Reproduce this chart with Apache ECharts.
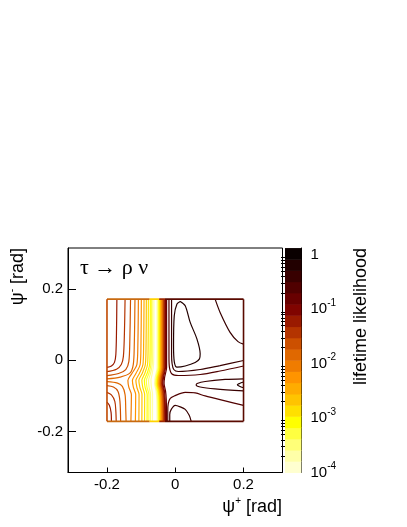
<!DOCTYPE html>
<html>
<head>
<meta charset="utf-8">
<script src="https://cdn.jsdelivr.net/npm/echarts@6/dist/echarts.min.js"></script>
<style>
html, body { margin: 0; padding: 0; background: #fff; }
#chart { width: 407px; height: 527px; }
</style>
</head>
<body>
<div id="chart"></div>
<script>
// axis ticks
var psiPlusTicks = [-0.2, 0, 0.2];
var psiMinusTicks = [-0.2, 0, 0.2];
var zDecades = [-4, -3, -2, -1, 0];          // log10 of 1e-4 .. 1
var zMinorMantissa = [2, 3, 4, 5, 6, 7, 8, 9];

// colour levels of the likelihood (20 contours, log spaced)
var levelEdges = [1e-4, 1.61e-4, 2.59e-4, 4.16e-4, 6.69e-4, 1.08e-3, 1.73e-3, 2.78e-3, 4.48e-3, 7.21e-3,
  1.16e-2, 1.86e-2, 3.0e-2, 4.82e-2, 7.76e-2, 0.125, 0.201, 0.323, 0.519, 0.835, 1.34];
var palette = ['#ffffd0', '#ffffa8', '#ffff78', '#ffff40', '#ffff00', '#ffe000', '#ffc400', '#ffac00', '#ff9400', '#f07c00',
  '#e06800', '#cc5000', '#b43400', '#9a1a00', '#800400', '#680000', '#500000', '#380000', '#220000', '#0a0000'];

// contour lines [psi+, psi-]
// left side: lines from the top edge bending to the left edge
var left13Up = [[-0.171, 0.171], [-0.172, 0.086], [-0.174, 0.016], [-0.178, -0.006], [-0.187, -0.016], [-0.2, -0.020]];
var left12Up = [[-0.147, 0.171], [-0.149, 0.072], [-0.152, 0.010], [-0.158, -0.012], [-0.172, -0.025], [-0.2, -0.032]];
var left11Up = [[-0.131, 0.171], [-0.133, 0.058], [-0.136, -0.004], [-0.145, -0.026], [-0.166, -0.037], [-0.2, -0.043]];
var left10Up = [[-0.118, 0.171], [-0.120, 0.044], [-0.123, -0.012], [-0.133, -0.036], [-0.161, -0.047], [-0.2, -0.052]];
// left side: lines from the left edge bending to the bottom edge
var left10Down = [[-0.2, -0.060], [-0.169, -0.064], [-0.155, -0.073], [-0.147, -0.096], [-0.145, -0.138], [-0.144, -0.171]];
var left11Down = [[-0.2, -0.071], [-0.181, -0.075], [-0.168, -0.087], [-0.162, -0.115], [-0.160, -0.171]];
var left12Down = [[-0.2, -0.090], [-0.187, -0.097], [-0.177, -0.115], [-0.174, -0.143], [-0.173, -0.171]];
var left13Down = [[-0.2, -0.117], [-0.193, -0.126], [-0.188, -0.146], [-0.187, -0.171]];
// left flank of the valley, top to bottom
var pass9 = [[-0.1080, 0.171], [-0.1095, 0.044], [-0.1124, -0.012], [-0.1270, -0.037], [-0.1387, -0.057], [-0.1358, -0.076], [-0.1285, -0.096], [-0.1299, -0.171]];
var pass8 = [[-0.0993, 0.171], [-0.1004, 0.044], [-0.1028, -0.012], [-0.1153, -0.037], [-0.1255, -0.057], [-0.1226, -0.076], [-0.1159, -0.096], [-0.1168, -0.171]];
var pass7 = [[-0.0914, 0.171], [-0.0926, 0.044], [-0.0946, -0.012], [-0.1051, -0.037], [-0.1153, -0.057], [-0.1124, -0.076], [-0.1060, -0.096], [-0.1066, -0.171]];
var pass6 = [[-0.0847, 0.171], [-0.0855, 0.044], [-0.0876, -0.012], [-0.0969, -0.037], [-0.1066, -0.057], [-0.1036, -0.076], [-0.0975, -0.096], [-0.0978, -0.171]];
var pass5 = [[-0.0788, 0.171], [-0.0794, 0.044], [-0.0812, -0.012], [-0.0893, -0.037], [-0.0978, -0.057], [-0.0952, -0.076], [-0.0896, -0.096], [-0.0899, -0.171]];
var pass4 = [[-0.0730, 0.171], [-0.0736, 0.044], [-0.0750, -0.012], [-0.0826, -0.037], [-0.0905, -0.057], [-0.0882, -0.076], [-0.0823, -0.096], [-0.0826, -0.171]];
var pass3 = [[-0.0695, 0.171], [-0.0701, 0.044], [-0.0713, -0.012], [-0.0774, -0.037], [-0.0847, -0.057], [-0.0827, -0.076], [-0.0771, -0.096], [-0.0774, -0.171]];
var pass2 = [[-0.0660, 0.171], [-0.0663, 0.044], [-0.0675, -0.012], [-0.0725, -0.037], [-0.0783, -0.057], [-0.0766, -0.076], [-0.0722, -0.096], [-0.0725, -0.171]];
var pass1 = [[-0.0625, 0.171], [-0.0627, 0.044], [-0.0636, -0.012], [-0.0674, -0.037], [-0.0712, -0.057], [-0.0698, -0.076], [-0.0665, -0.096], [-0.0668, -0.171]];
// right flank of the valley, top to bottom
var flank1 = [[-0.0531, 0.171], [-0.0531, -0.020], [-0.0589, -0.048], [-0.0604, -0.065], [-0.0560, -0.087], [-0.0540, -0.110], [-0.0531, -0.171]];
var flank2 = [[-0.0508, 0.171], [-0.0508, -0.020], [-0.0566, -0.048], [-0.0581, -0.065], [-0.0537, -0.087], [-0.0517, -0.110], [-0.0508, -0.171]];
var flank3 = [[-0.0488, 0.171], [-0.0488, -0.020], [-0.0546, -0.048], [-0.0561, -0.065], [-0.0517, -0.087], [-0.0497, -0.110], [-0.0488, -0.171]];
var flank4 = [[-0.0467, 0.171], [-0.0467, -0.020], [-0.0525, -0.048], [-0.0540, -0.065], [-0.0496, -0.087], [-0.0476, -0.110], [-0.0467, -0.171]];
var flank5 = [[-0.0450, 0.171], [-0.0450, -0.020], [-0.0508, -0.048], [-0.0523, -0.065], [-0.0479, -0.087], [-0.0459, -0.110], [-0.0450, -0.171]];
var flank6 = [[-0.0432, 0.171], [-0.0432, -0.020], [-0.0490, -0.048], [-0.0505, -0.065], [-0.0461, -0.087], [-0.0441, -0.110], [-0.0432, -0.171]];
var flank7 = [[-0.0415, 0.171], [-0.0415, -0.020], [-0.0473, -0.048], [-0.0488, -0.065], [-0.0444, -0.087], [-0.0424, -0.110], [-0.0415, -0.171]];
var flank8 = [[-0.0397, 0.171], [-0.0397, -0.020], [-0.0455, -0.048], [-0.0470, -0.065], [-0.0426, -0.087], [-0.0406, -0.110], [-0.0397, -0.171]];
var flank9 = [[-0.0380, 0.171], [-0.0380, -0.020], [-0.0438, -0.048], [-0.0453, -0.065], [-0.0409, -0.087], [-0.0389, -0.110], [-0.0380, -0.171]];
var flank10 = [[-0.0362, 0.171], [-0.0362, -0.020], [-0.0420, -0.048], [-0.0435, -0.065], [-0.0391, -0.087], [-0.0371, -0.110], [-0.0362, -0.171]];
var flank11 = [[-0.0345, 0.171], [-0.0345, -0.020], [-0.0403, -0.048], [-0.0418, -0.065], [-0.0374, -0.087], [-0.0354, -0.110], [-0.0345, -0.171]];
var flank12 = [[-0.0327, 0.171], [-0.0327, -0.020], [-0.0385, -0.048], [-0.0400, -0.065], [-0.0356, -0.087], [-0.0336, -0.110], [-0.0327, -0.171]];
var flank13 = [[-0.0307, 0.171], [-0.0307, -0.020], [-0.0365, -0.048], [-0.0380, -0.065], [-0.0336, -0.087], [-0.0316, -0.110], [-0.0307, -0.171]];
var flank14 = [[-0.0286, 0.171], [-0.0286, -0.020], [-0.0344, -0.048], [-0.0359, -0.065], [-0.0315, -0.087], [-0.0295, -0.110], [-0.0286, -0.171]];
var flank15 = [[-0.0254, 0.171], [-0.0254, -0.020], [-0.0312, -0.048], [-0.0327, -0.065], [-0.0283, -0.087], [-0.0263, -0.110], [-0.0254, -0.171]];
// right side
var right16Up = [[-0.0184, 0.171], [-0.0184, 0.0075], [-0.0169, -0.0204], [-0.0096, -0.0385], [0.0088, -0.0427], [0.073, -0.0399], [0.1314, -0.0301], [0.2, -0.0162]];
var right17Up = [[-0.0108, 0.171], [-0.0108, 0.0159], [-0.0093, -0.0092], [-0.0044, -0.0259], [0.0088, -0.0315], [0.073, -0.0259], [0.1314, -0.0148], [0.2, -0.0008]];
var right16Down = [[-0.0219, -0.171], [-0.0219, -0.1431], [-0.0204, -0.1208], [-0.0146, -0.1068], [-0.0029, -0.0999], [0.0292, -0.0901], [0.0584, -0.0915], [0.0876, -0.0999], [0.146, -0.1138], [0.2, -0.1264]];
var right17Bump = [[-0.0161, -0.171], [-0.0161, -0.1515], [-0.0117, -0.1375], [0, -0.1264], [0.0146, -0.1305], [0.0292, -0.1375], [0.0409, -0.1542], [0.0467, -0.171]];
var wedge17 = [[0.2, -0.0519], [0.146, -0.0538], [0.0876, -0.0594], [0.0642, -0.065], [0.0613, -0.0692], [0.073, -0.0748], [0.1168, -0.0803], [0.2, -0.0859]];
var wedge18 = [[0.2, -0.0608], [0.1883, -0.065], [0.1819, -0.0686], [0.1883, -0.0728], [0.2, -0.077]];
var corner17 = [[0.1168, 0.171], [0.1314, 0.1339], [0.1606, 0.0781], [0.1839, 0.0522], [0.2, 0.0452]];
var peak18 = [[0.0146, 0.1646], [0.005, 0.1573], [-0.0029, 0.1247], [-0.005, 0.041], [-0.0029, -0.0036], [0.005, -0.0195], [0.0292, -0.0162],
  [0.0584, -0.0064], [0.0709, 0.0039], [0.073, 0.0179], [0.0634, 0.0597], [0.0438, 0.106], [0.0292, 0.1526], [0.0146, 0.1646]];

// histogram box and colours along its edges
var boxPsiPlus = [-0.2, 0.2];
var boxPsiMinus = [-0.171, 0.171];
var edgeBreaks = [-0.2, -0.075, -0.047, -0.03, 0.2];
var edgeColors = ['#c86a10', '#ffd200', '#a02800', '#5a0a00'];

var contourList = [
  [13, left13Up], [12, left12Up], [11, left11Up], [10, left10Up],
  [10, left10Down], [11, left11Down], [12, left12Down], [13, left13Down],
  [9, pass9], [8, pass8], [7, pass7], [6, pass6], [5, pass5], [4, pass4], [3, pass3], [2, pass2], [1, pass1],
  [1, flank1], [2, flank2], [3, flank3], [4, flank4], [5, flank5], [6, flank6], [7, flank7], [8, flank8],
  [9, flank9], [10, flank10], [11, flank11], [12, flank12], [13, flank13], [14, flank14], [15, flank15],
  [16, right16Up], [17, right17Up], [16, right16Down], [17, right17Bump],
  [17, wedge17], [18, wedge18], [17, corner17], [18, peak18]
];

var chart = echarts.init(document.getElementById('chart'));
var FONT = 'Liberation Sans';

var series = contourList.map(function (c) {
  return {
    type: 'line', xAxisIndex: 0, yAxisIndex: 0,
    data: c[1], symbol: 'none', smooth: 0.3, silent: true,
    lineStyle: { color: palette[c[0]], width: 1.2 }
  };
});

// box edges
var edges = [];
for (var i = 0; i < edgeColors.length; i++) {
  edges.push([[[edgeBreaks[i], boxPsiMinus[1]], [edgeBreaks[i + 1], boxPsiMinus[1]]], edgeColors[i]]);
  edges.push([[[edgeBreaks[i], boxPsiMinus[0]], [edgeBreaks[i + 1], boxPsiMinus[0]]], edgeColors[i]]);
}
edges.push([[[boxPsiPlus[0], boxPsiMinus[0]], [boxPsiPlus[0], boxPsiMinus[1]]], '#c04800']);
edges.push([[[boxPsiPlus[1], boxPsiMinus[0]], [boxPsiPlus[1], boxPsiMinus[1]]], '#5a0a00']);
edges.forEach(function (e) {
  series.push({
    type: 'line', xAxisIndex: 0, yAxisIndex: 0, data: e[0], symbol: 'none', silent: true,
    lineStyle: { color: e[1], width: 1.6 }
  });
});

// colour bar bands
var bandData = palette.map(function (c, i) {
  return [Math.log10(levelEdges[i]), Math.log10(levelEdges[i + 1]), i];
});
series.push({
  type: 'custom', xAxisIndex: 1, yAxisIndex: 1, silent: true,
  data: bandData,
  encode: { y: [0, 1] },
  renderItem: function (params, api) {
    var p0 = api.coord([0, api.value(0)]);
    var p1 = api.coord([1, api.value(1)]);
    return {
      type: 'rect',
      shape: { x: p0[0], y: p1[1], width: p1[0] - p0[0], height: p0[1] - p1[1] + 0.5 },
      style: { fill: palette[api.value(2)] }
    };
  }
});

var minorTicks = [];
zDecades.slice(0, 4).forEach(function (d) {
  zMinorMantissa.forEach(function (m) { minorTicks.push(d + Math.log10(m)); });
});

var option = {
  animation: false,
  backgroundColor: '#fff',
  grid: [
    { left: 68, top: 248, width: 214.5, height: 224.5, show: true, borderColor: '#000', borderWidth: 1, backgroundColor: 'transparent' },
    { left: 285, top: 248, width: 16.5, height: 224.5 }
  ],
  xAxis: [
    {
      gridIndex: 0, type: 'value', min: -0.31416, max: 0.31416,
      axisLine: { onZero: false, lineStyle: { color: '#000', width: 1 } },
      axisTick: { inside: true, length: 5, customValues: psiPlusTicks, lineStyle: { color: '#000' } },
      axisLabel: {
        customValues: psiPlusTicks, margin: 5, color: '#000', fontSize: 15, fontFamily: FONT,
        formatter: function (v) { return v === 0 ? '0' : String(v); }
      },
      splitLine: { show: false }
    },
    { gridIndex: 1, type: 'value', min: 0, max: 1, show: false }
  ],
  yAxis: [
    {
      gridIndex: 0, type: 'value', min: -0.31416, max: 0.31416,
      axisLine: { onZero: false, lineStyle: { color: '#000', width: 1 } },
      axisTick: { inside: true, length: 8, customValues: psiMinusTicks, lineStyle: { color: '#000' } },
      axisLabel: {
        customValues: psiMinusTicks, margin: 5, color: '#000', fontSize: 15, fontFamily: FONT,
        formatter: function (v) { return v === 0 ? '0' : String(v); }
      },
      splitLine: { show: false }
    },
    {
      gridIndex: 1, type: 'value', min: -4, max: 0.128, position: 'right',
      axisLine: { show: true, onZero: false, lineStyle: { color: '#000', width: 1 } },
      axisTick: { show: true, inside: true, length: 8, customValues: zDecades, lineStyle: { color: '#000' } },
      axisLabel: {
        customValues: zDecades, margin: 9, color: '#000', fontFamily: FONT,
        formatter: function (v) {
          return Math.abs(v) < 1e-9 ? '{b|1}' : '{b|10}{s|' + Math.round(v) + '}';
        },
        rich: {
          b: { fontSize: 15, lineHeight: 22, fontFamily: FONT, color: '#000' },
          s: { fontSize: 10, lineHeight: 12, verticalAlign: 'top', fontFamily: FONT, color: '#000' }
        }
      },
      splitLine: { show: false }
    },
    {
      gridIndex: 1, type: 'value', min: -4, max: 0.128, position: 'right',
      axisLine: { show: false },
      axisTick: { show: true, inside: true, length: 4, customValues: minorTicks, lineStyle: { color: '#000' } },
      axisLabel: { show: false },
      splitLine: { show: false }
    }
  ],
  graphic: [
    {
      type: 'text', x: 80, y: 268,
      style: { text: 'τ → ρ ν', font: '22px "Liberation Serif"', fill: '#000', verticalAlign: 'middle' }
    },
    {
      type: 'text', x: 282, y: 507,
      style: {
        text: '{t|ψ}{s|+}{t| [rad]}', align: 'right', verticalAlign: 'middle', fill: '#000',
        rich: {
          t: { fontSize: 18, lineHeight: 22, fontFamily: FONT, fill: '#000' },
          s: { fontSize: 10, lineHeight: 12, verticalAlign: 'top', fontFamily: FONT, fill: '#000' }
        }
      }
    },
    {
      type: 'text', x: 18, y: 248, rotation: Math.PI / 2,
      style: {
        text: '{t|ψ}{s|-}{t| [rad]}', align: 'right', verticalAlign: 'middle', fill: '#000',
        rich: {
          t: { fontSize: 18, lineHeight: 22, fontFamily: FONT, fill: '#000' },
          s: { fontSize: 10, lineHeight: 12, verticalAlign: 'top', fontFamily: FONT, fill: '#000' }
        }
      }
    },
    {
      type: 'text', x: 361.5, y: 248, rotation: Math.PI / 2,
      style: { text: 'lifetime likelihood', font: '18px "Liberation Sans"', fill: '#000', align: 'right', verticalAlign: 'middle' }
    }
  ],
  series: series
};

chart.setOption(option);
</script>
</body>
</html>
